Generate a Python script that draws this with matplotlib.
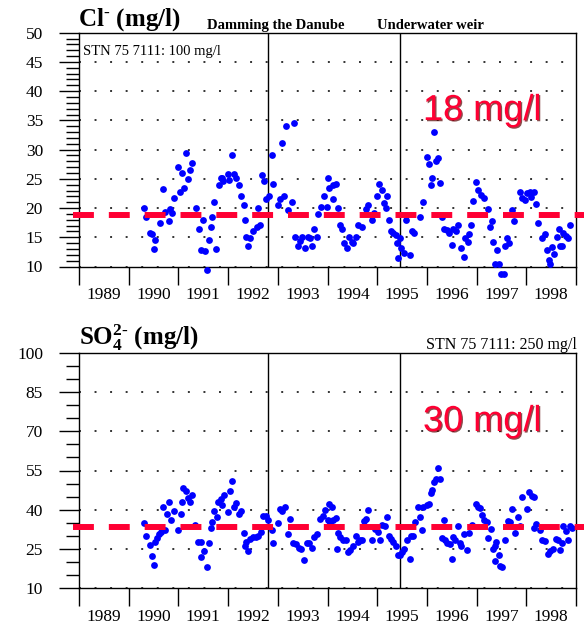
import numpy as np
import matplotlib
matplotlib.use('Agg')
import matplotlib.pyplot as plt
import matplotlib.patheffects as pe

plt.rcParams['font.family'] = ['Liberation Serif', 'DejaVu Serif']
plt.rcParams['mathtext.fontset'] = 'custom'
plt.rcParams['mathtext.rm'] = 'Liberation Serif:bold'
plt.rcParams['mathtext.it'] = 'Liberation Serif:bold'
plt.rcParams['mathtext.bf'] = 'Liberation Serif:bold'

# ---------------- data ----------------
years = list(range(1989, 1999))
events = [1992.80, 1995.46]
event_labels = ['Damming the Danube', 'Underwater weir']

cl_limit_text = 'STN 75 7111: 100 mg/l'
so4_limit_text = 'STN 75 7111: 250 mg/l'
cl_threshold = 18.85
so4_threshold = 33.5
cl_threshold_label = '18 mg/l'
so4_threshold_label = '30 mg/l'

cl_dates = [
    1990.31, 1990.34, 1990.43, 1990.46, 1990.53, 1990.51, 1990.62, 1990.70, 1990.73, 1990.81,
    1990.83, 1990.88, 1990.92, 1991.00, 1991.03, 1991.08, 1991.12, 1991.15, 1991.20, 1991.23,
    1991.27, 1991.35, 1991.42, 1991.49, 1991.45, 1991.53, 1991.57, 1991.62, 1991.65, 1991.68,
    1991.72, 1991.76, 1991.82, 1991.85, 1991.88, 1991.90, 1991.99, 1992.02, 1992.07, 1992.11,
    1992.15, 1992.21, 1992.26, 1992.31, 1992.34, 1992.37, 1992.41, 1992.44, 1992.51, 1992.58,
    1992.61, 1992.64, 1992.68, 1992.73, 1992.76, 1992.83, 1992.88, 1992.91, 1993.01, 1993.04,
    1993.09, 1993.13, 1993.16, 1993.20, 1993.28, 1993.33, 1993.35, 1993.40, 1993.45, 1993.49,
    1993.55, 1993.61, 1993.65, 1993.69, 1993.73, 1993.78, 1993.81, 1993.87, 1993.93, 1993.98,
    1994.02, 1994.03, 1994.12, 1994.17, 1994.12, 1994.21, 1994.25, 1994.30, 1994.34, 1994.39,
    1994.43, 1994.49, 1994.52, 1994.57, 1994.62, 1994.69, 1994.77, 1994.81, 1994.89, 1994.94,
    1995.00, 1995.04, 1995.09, 1995.14, 1995.19, 1995.17, 1995.24, 1995.27, 1995.32, 1995.37,
    1995.39, 1995.46, 1995.42, 1995.48, 1995.54, 1995.57, 1995.66, 1995.71, 1995.75, 1995.86,
    1995.92, 1996.00, 1996.04, 1996.10, 1996.08, 1996.15, 1996.18, 1996.23, 1996.26, 1996.30,
    1996.35, 1996.40, 1996.44, 1996.50, 1996.53, 1996.59, 1996.63, 1996.69, 1996.74, 1996.77,
    1996.82, 1996.85, 1996.88, 1996.92, 1996.99, 1997.03, 1997.09, 1997.14, 1997.22, 1997.27,
    1997.31, 1997.34, 1997.38, 1997.42, 1997.45, 1997.50, 1997.55, 1997.57, 1997.62, 1997.66,
    1997.72, 1997.76, 1997.87, 1997.92, 1997.97, 1998.02, 1998.07, 1998.10, 1998.15, 1998.20,
    1998.24, 1998.32, 1998.38, 1998.41, 1998.46, 1998.48, 1998.51, 1998.56, 1998.61, 1998.66,
    1998.68, 1998.72, 1998.74, 1998.79, 1998.83, 1998.88,
]
cl_values = [
    20.0, 18.4, 15.8, 15.6, 14.5, 13.0, 17.4, 23.2, 19.4, 17.7,
    19.8, 19.2, 21.7, 27.1, 22.8, 26.0, 23.5, 29.5, 24.9, 26.5,
    27.7, 20.0, 16.4, 17.9, 12.8, 12.6, 9.4, 14.5, 16.7, 18.5,
    21.1, 13.0, 23.9, 25.1, 25.1, 24.7, 25.9, 24.8, 29.1, 25.8,
    25.1, 23.9, 22.1, 20.5, 17.9, 15.0, 13.5, 14.8, 16.0, 16.8,
    20.0, 17.1, 25.6, 24.6, 21.5, 22.1, 29.1, 24.1, 20.5, 21.5,
    31.1, 22.1, 34.0, 19.7, 21.1, 34.5, 15.1, 13.5, 14.4, 15.1,
    13.1, 15.1, 14.9, 13.5, 16.5, 15.1, 19.0, 20.1, 22.1, 20.1,
    25.1, 23.5, 23.9, 24.2, 21.5, 20.0, 17.1, 16.5, 14.1, 13.1,
    15.0, 14.2, 14.0, 15.0, 17.1, 16.7, 19.9, 20.5, 17.9, 19.1,
    22.1, 24.2, 23.1, 20.8, 22.1, 20.0, 17.9, 16.0, 15.7, 15.4,
    14.0, 14.8, 11.4, 13.1, 12.3, 17.9, 12.0, 16.0, 15.8, 18.5,
    21.1, 28.8, 27.5, 25.1, 23.9, 33.0, 28.0, 28.5, 24.3, 18.5,
    16.5, 16.2, 15.8, 13.7, 16.4, 16.1, 17.1, 13.1, 11.7, 14.8,
    14.2, 15.6, 17.1, 21.2, 24.5, 23.1, 22.2, 21.8, 19.9, 16.8,
    17.7, 14.2, 10.5, 12.8, 10.5, 8.8, 8.8, 13.5, 14.8, 14.0,
    19.7, 17.7, 22.8, 21.7, 21.4, 22.5, 22.8, 21.9, 22.8, 20.7,
    17.5, 14.8, 15.6, 12.9, 11.1, 10.5, 13.4, 12.1, 15.1, 16.5,
    13.5, 13.5, 15.7, 15.2, 14.8, 17.1,
]

so4_dates = [
    1990.31, 1990.34, 1990.42, 1990.46, 1990.51, 1990.53, 1990.56, 1990.61, 1990.65, 1990.70,
    1990.74, 1990.78, 1990.81, 1990.86, 1990.92, 1991.00, 1991.05, 1991.08, 1991.10, 1991.15,
    1991.20, 1991.23, 1991.27, 1991.33, 1991.40, 1991.45, 1991.45, 1991.52, 1991.57, 1991.62,
    1991.66, 1991.68, 1991.72, 1991.77, 1991.80, 1991.85, 1991.87, 1991.92, 1991.99, 1992.04,
    1992.07, 1992.12, 1992.16, 1992.21, 1992.26, 1992.31, 1992.34, 1992.37, 1992.41, 1992.44,
    1992.51, 1992.56, 1992.61, 1992.66, 1992.71, 1992.76, 1992.81, 1992.88, 1992.91, 1993.01,
    1993.04, 1993.09, 1993.14, 1993.20, 1993.24, 1993.31, 1993.36, 1993.42, 1993.47, 1993.53,
    1993.58, 1993.63, 1993.68, 1993.73, 1993.78, 1993.85, 1993.90, 1993.94, 1994.00, 1994.03,
    1994.10, 1994.12, 1994.17, 1994.05, 1994.21, 1994.25, 1994.32, 1994.20, 1994.37, 1994.41,
    1994.46, 1994.52, 1994.57, 1994.61, 1994.66, 1994.70, 1994.74, 1994.77, 1994.81, 1994.89,
    1994.96, 1995.01, 1995.06, 1995.10, 1995.16, 1995.19, 1995.23, 1995.28, 1995.32, 1995.37,
    1995.41, 1995.46, 1995.50, 1995.54, 1995.59, 1995.66, 1995.68, 1995.73, 1995.76, 1995.82,
    1995.86, 1995.90, 1995.93, 1996.00, 1996.04, 1996.08, 1996.11, 1996.15, 1996.19, 1996.23,
    1996.26, 1996.30, 1996.35, 1996.37, 1996.41, 1996.46, 1996.50, 1996.53, 1996.57, 1996.63,
    1996.66, 1996.69, 1996.75, 1996.80, 1996.85, 1996.90, 1996.98, 1997.03, 1997.07, 1997.10,
    1997.15, 1997.20, 1997.23, 1997.29, 1997.32, 1997.37, 1997.40, 1997.45, 1997.37, 1997.47,
    1997.52, 1997.57, 1997.63, 1997.67, 1997.72, 1997.77, 1997.83, 1997.87, 1997.92, 1998.01,
    1998.05, 1998.11, 1998.15, 1998.15, 1998.20, 1998.27, 1998.32, 1998.38, 1998.43, 1998.48,
    1998.54, 1998.59, 1998.64, 1998.68, 1998.72, 1998.74, 1998.79, 1998.83, 1998.88, 1998.91,
]
so4_values = [
    34.8, 30.1, 26.6, 22.1, 19.0, 27.5, 29.2, 30.8, 31.4, 41.0,
    32.3, 38.4, 42.9, 36.1, 39.4, 32.3, 38.2, 42.9, 48.2, 47.1,
    44.6, 42.9, 45.8, 34.3, 27.5, 27.5, 21.8, 24.0, 18.2, 27.2,
    33.1, 35.2, 39.4, 37.1, 42.9, 44.2, 41.6, 45.8, 39.0, 47.1,
    50.9, 41.0, 42.5, 38.2, 39.4, 31.0, 25.9, 27.5, 24.0, 28.9,
    29.5, 29.7, 30.1, 31.4, 37.4, 37.4, 35.9, 32.3, 27.2, 34.8,
    40.3, 39.4, 41.0, 30.5, 36.5, 27.2, 26.9, 25.4, 25.0, 20.8,
    27.2, 27.2, 25.4, 29.5, 30.5, 36.5, 37.4, 39.7, 35.9, 42.0,
    41.0, 35.9, 36.9, 34.8, 31.0, 29.5, 28.5, 25.0, 28.5, 23.7,
    24.4, 25.9, 30.1, 27.5, 28.5, 28.2, 35.6, 36.5, 40.0, 28.2,
    32.7, 31.4, 28.2, 34.0, 33.6, 37.1, 30.1, 28.9, 27.5, 25.9,
    22.5, 22.5, 23.7, 25.0, 28.2, 21.2, 30.1, 30.1, 35.2, 41.0,
    37.1, 32.3, 41.0, 41.6, 42.3, 46.3, 47.6, 50.5, 51.8, 55.9,
    51.8, 29.2, 35.9, 28.2, 27.2, 26.7, 21.2, 29.5, 28.5, 33.6,
    27.2, 25.9, 30.8, 24.4, 31.0, 34.3, 42.0, 41.2, 40.7, 37.8,
    36.1, 35.2, 29.2, 32.7, 25.0, 25.9, 27.5, 22.5, 20.3, 18.6,
    18.2, 28.5, 35.6, 35.2, 40.3, 31.0, 37.1, 33.6, 44.8, 40.3,
    46.7, 45.4, 44.8, 33.1, 34.6, 32.3, 28.5, 27.9, 23.1, 24.1,
    25.0, 28.9, 28.2, 24.4, 27.2, 33.6, 31.8, 28.5, 33.6, 33.1,
]

cl_yticks = [10, 15, 20, 25, 30, 35, 40, 45, 50]
so4_yticks = [10, 25, 40, 55, 70, 85, 100]

# ---------------- figure ----------------
W, H = 584, 627
fig = plt.figure(figsize=(W / 100, H / 100), dpi=100)
left, right = 79, 576
ax1 = fig.add_axes([left / W, 1 - 266.5 / H, (right - left) / W, (266.5 - 32.7) / H])
ax2 = fig.add_axes([left / W, 1 - 588 / H, (right - left) / W, (588 - 353) / H])

RED = '#FF0033'


def style(ax, yticks, minor_step):
    ax.set_xlim(years[0], years[-1] + 1)
    ax.set_ylim(yticks[0], yticks[-1])
    ax.set_xticks(np.arange(years[0], years[-1] + 2))
    ax.set_xticklabels([])
    ax.set_xticks(np.array(years) + 0.5, minor=True)
    ax.set_xticklabels([str(y) for y in years], minor=True)
    ax.tick_params(axis='x', which='major', direction='out', length=13, width=1.0)
    ax.tick_params(axis='x', which='minor', length=0, pad=15, labelsize=12.5)
    ax.set_yticks(yticks)
    ax.set_yticks(np.arange(yticks[0], yticks[-1] + 0.01, minor_step), minor=True)
    ax.tick_params(axis='y', which='major', direction='out', length=14.4, width=1.0,
                   pad=11.5, labelsize=12.5)
    ax.tick_params(axis='y', which='minor', direction='out', length=9.4, width=1.0)
    ax.yaxis.grid(True, which='major', linestyle=(0, (1, 7)), color='#333333', lw=1.4)
    ax.set_axisbelow(True)
    for s in ax.spines.values():
        s.set_linewidth(1.0)
    for e in events:
        ax.axvline(e, color='black', lw=1.0, zorder=2)


style(ax1, cl_yticks, 1)
style(ax2, so4_yticks, 5)

ax1.scatter(cl_dates, cl_values, s=24, color='blue', linewidths=0, zorder=3, clip_on=False)
ax2.scatter(so4_dates, so4_values, s=24, color='blue', linewidths=0, zorder=3, clip_on=False)

for ax, thr in ((ax1, cl_threshold), (ax2, so4_threshold)):
    ax.axhline(thr, xmin=-0.012, xmax=1.016, color=RED, lw=4.3,
               linestyle=(0, (3.5, 2.5)), clip_on=False, zorder=4)

shadow = [pe.withSimplePatchShadow(offset=(0.9, -0.9), shadow_rgbFace='#5a0000', alpha=0.7)]
ax1.text((423 - left) / (right - left), (266.5 - 120) / 233.8, cl_threshold_label,
         transform=ax1.transAxes, family='Liberation Sans', fontsize=26, color=RED,
         va='baseline', ha='left', path_effects=shadow, zorder=5)
ax2.text((423 - left) / (right - left), (588 - 431) / 235, so4_threshold_label,
         transform=ax2.transAxes, family='Liberation Sans', fontsize=26, color=RED,
         va='baseline', ha='left', path_effects=shadow, zorder=5)

# titles and annotations
fig.text(78 / W, 1 - 26 / H, r'Cl$^{\text{-}}$ (mg/l)', fontsize=18, fontweight='bold',
         ha='left', va='baseline')
fig.text(207 / W, 1 - 29 / H, event_labels[0], fontsize=10.5, fontweight='bold',
         ha='left', va='baseline')
fig.text(377 / W, 1 - 29 / H, event_labels[1], fontsize=10.5, fontweight='bold',
         ha='left', va='baseline')
ax1.text((83 - left) / (right - left), (266.5 - 55) / 233.8, cl_limit_text,
         transform=ax1.transAxes, fontsize=10.5, ha='left', va='baseline')

fig.text(79 / W, 1 - 345 / H, r'SO$_{4}^{2\text{-}}$ (mg/l)', fontsize=18, fontweight='bold',
         ha='left', va='baseline')
fig.text(577 / W, 1 - 349 / H, so4_limit_text, fontsize=11.5, ha='right', va='baseline')

fig.savefig('out.png', dpi=100)
